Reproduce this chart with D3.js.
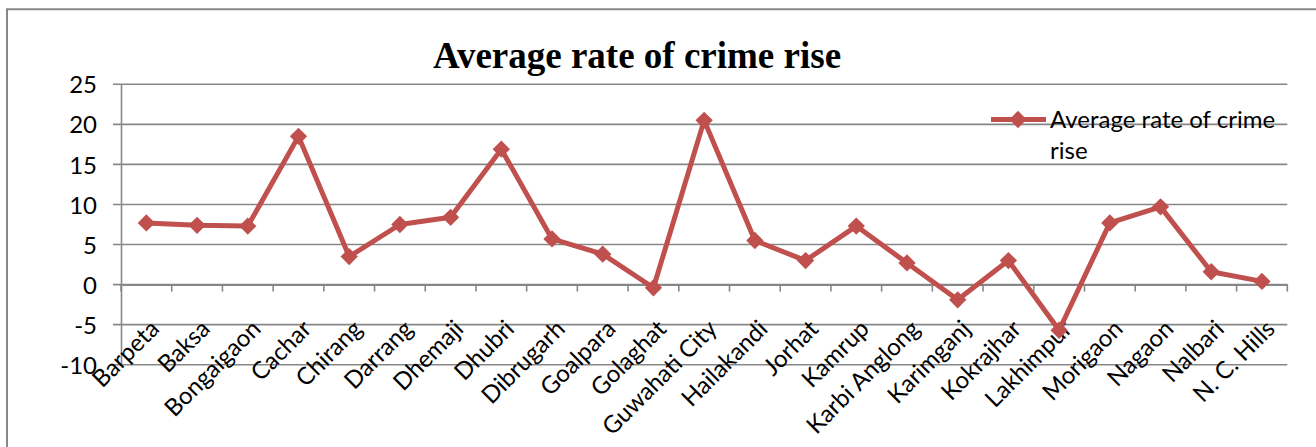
<!DOCTYPE html>
<meta charset="utf-8">
<html>
<head>
  <title>Average rate of crime rise</title>
  <script src="https://d3js.org/d3.v7.min.js"></script>
  <style>
    body { margin: 0; background: #fff; }
    svg { display: block; }
  </style>
</head>
<body>
  <div id="chart"></div>
<script>

  // districts along the x axis
  var districts = ["Barpeta", "Baksa", "Bongaigaon", "Cachar", "Chirang", "Darrang", "Dhemaji",
    "Dhubri", "Dibrugarh", "Goalpara", "Golaghat", "Guwahati City", "Hailakandi", "Jorhat",
    "Kamrup", "Karbi Anglong", "Karimganj", "Kokrajhar", "Lakhimpur", "Morigaon", "Nagaon",
    "Nalbari", "N. C. Hills"];

  // average rate of crime rise
  var crimeRise = [7.7, 7.4, 7.3, 18.5, 3.5, 7.5, 8.4, 16.9, 5.7, 3.8, -0.4, 20.5, 5.5, 3.0,
    7.3, 2.7, -1.9, 3.0, -5.7, 7.7, 9.7, 1.6, 0.4];

  var yTicks = [-10, -5, 0, 5, 10, 15, 20, 25];
  var seriesName = "Average rate of crime rise";
  var titleText = "Average rate of crime rise";

  var W = 1316, H = 447;
  var margin = { top: 84.3, right: 28.7, bottom: 82.3, left: 121 },
    width = W - margin.left - margin.right,
    height = H - margin.top - margin.bottom;

  var red = "#c0504d", grid = "#878787";
  var font = "Lato, 'Open Sans', sans-serif";
  var fontSize = "24px";

  var root = d3.select("#chart")
    .append("svg")
    .attr("width", W)
    .attr("height", H);

  // chart frame (only left and top edges are visible in the crop)
  root.append("path")
    .attr("d", "M7," + H + "V9.3H" + (W + 5))
    .attr("fill", "none")
    .attr("stroke", grid)
    .attr("stroke-width", 2);

  root.append("text")
    .attr("x", 637)
    .attr("y", 68)
    .attr("text-anchor", "middle")
    .style("font-family", "'Liberation Serif', 'Times New Roman', serif")
    .style("font-weight", "bold")
    .style("font-size", "37px")
    .text(titleText);

  var svg = root.append("g")
    .attr("transform", "translate(" + margin.left + "," + margin.top + ")");

  var x = d3.scaleBand()
    .domain(districts)
    .range([0, width]);

  var y = d3.scaleLinear()
    .domain([-10, 25])
    .range([height, 0]);

  // horizontal gridlines + left ticks
  svg.append("g")
    .selectAll("line")
    .data(yTicks)
    .enter()
    .append("line")
    .attr("x1", -8)
    .attr("x2", width)
    .attr("y1", function (d) { return y(d); })
    .attr("y2", function (d) { return y(d); })
    .attr("stroke", grid)
    .attr("stroke-width", 1.6);

  var yAxis = svg.append("g")
    .call(d3.axisLeft(y).tickValues(yTicks).tickSize(0).tickPadding(24)
      .tickFormat(function (d) { return String(d); }));
  yAxis.select(".domain").attr("stroke", grid).attr("stroke-width", 1.6);
  yAxis.selectAll("text")
    .attr("fill", "#000")
    .attr("dy", "0.36em")
    .style("font-family", font)
    .style("font-size", fontSize);

  // category axis sits at zero
  var xAxis = svg.append("g")
    .attr("transform", "translate(0," + y(0) + ")")
    .call(d3.axisBottom(x).tickSize(0).tickFormat(""));
  xAxis.select(".domain").attr("stroke", grid).attr("stroke-width", 1.6);

  var edges = districts.map(function (d) { return x(d); }).concat([width]);
  xAxis.selectAll(".edge")
    .data(edges)
    .enter()
    .append("line")
    .attr("x1", function (d) { return d; })
    .attr("x2", function (d) { return d; })
    .attr("y1", 0)
    .attr("y2", 7)
    .attr("stroke", grid)
    .attr("stroke-width", 1.6);

  // rotated category labels
  svg.append("g")
    .selectAll("text")
    .data(districts)
    .enter()
    .append("text")
    .attr("transform", function (d) {
      return "translate(" + (x(d) + x.bandwidth() / 2 + 5) + "," + (321 - margin.top) + ")rotate(-45)";
    })
    .attr("text-anchor", "end")
    .attr("dy", "0.55em")
    .style("font-family", font)
    .style("font-size", fontSize)
    .text(function (d) { return d; });

  var pts = districts.map(function (d, i) { return { name: d, value: crimeRise[i] }; });

  var line = d3.line()
    .x(function (d) { return x(d.name) + x.bandwidth() / 2; })
    .y(function (d) { return y(d.value); });

  svg.append("path")
    .datum(pts)
    .attr("d", line)
    .attr("fill", "none")
    .attr("stroke", red)
    .attr("stroke-width", 5)
    .attr("stroke-linejoin", "round");

  var diamond = d3.symbol(d3.symbolSquare).size(150);

  svg.selectAll(".marker")
    .data(pts)
    .enter()
    .append("path")
    .attr("transform", function (d) {
      return "translate(" + (x(d.name) + x.bandwidth() / 2) + "," + y(d.value) + ")rotate(45)";
    })
    .attr("d", diamond)
    .attr("fill", red);

  // legend
  var legend = root.append("g");
  legend.append("line")
    .attr("x1", 991).attr("x2", 1046)
    .attr("y1", 119.5).attr("y2", 119.5)
    .attr("stroke", red)
    .attr("stroke-width", 5);
  legend.append("path")
    .attr("transform", "translate(1018,119.5)rotate(45)")
    .attr("d", diamond)
    .attr("fill", red);
  var lt = legend.append("text")
    .attr("x", 1050)
    .attr("y", 128)
    .style("font-family", font)
    .style("font-size", fontSize);
  lt.append("tspan").attr("x", 1050).text(seriesName.split(" rise")[0]);
  lt.append("tspan").attr("x", 1050).attr("dy", 31).text("rise");

</script>
</body>
</html>
